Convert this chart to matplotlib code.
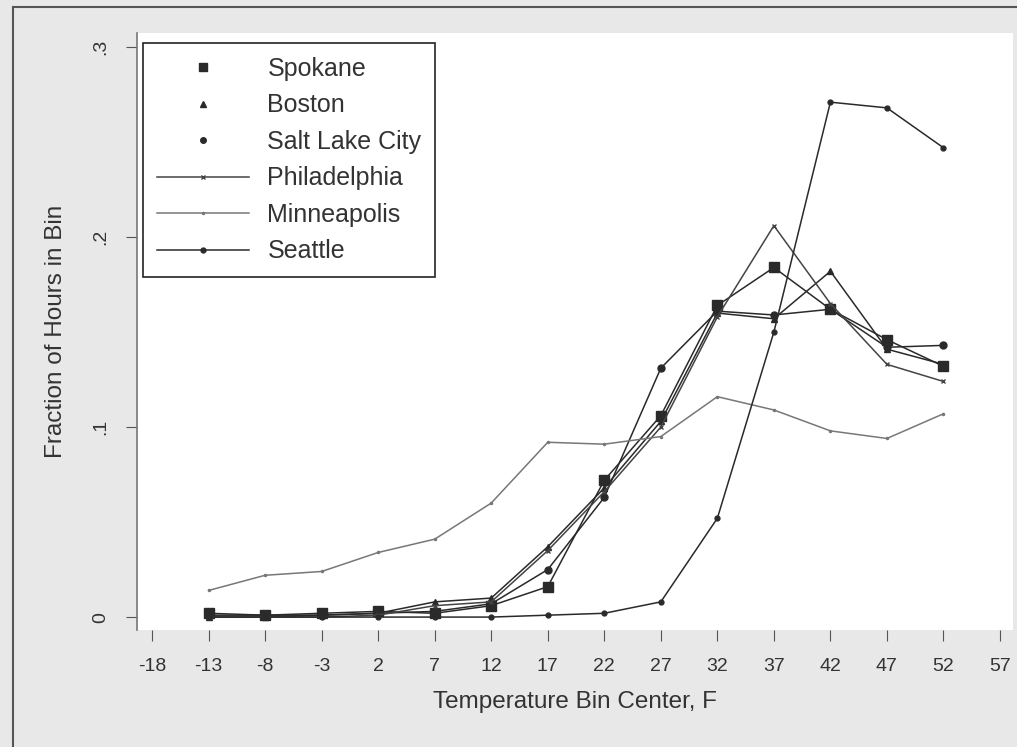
import matplotlib.pyplot as plt
from matplotlib.lines import Line2D
from matplotlib.patches import Rectangle

plt.rcParams['font.family'] = ['Liberation Sans', 'DejaVu Sans']
plt.rcParams['axes.unicode_minus'] = False

# bin centers (F)
temps = [-13, -8, -3, 2, 7, 12, 17, 22, 27, 32, 37, 42, 47, 52]

spokane = [0.002, 0.001, 0.002, 0.003, 0.002, 0.006, 0.016, 0.072, 0.106, 0.164, 0.184, 0.162, 0.146, 0.132]
boston = [0.000, 0.000, 0.001, 0.002, 0.008, 0.010, 0.037, 0.068, 0.103, 0.160, 0.157, 0.182, 0.141, 0.133]
salt_lake = [0.001, 0.001, 0.001, 0.002, 0.003, 0.007, 0.025, 0.063, 0.131, 0.161, 0.159, 0.162, 0.142, 0.143]
philadelphia = [0.000, 0.000, 0.000, 0.001, 0.006, 0.008, 0.035, 0.066, 0.100, 0.158, 0.206, 0.165, 0.133, 0.124]
minneapolis = [0.014, 0.022, 0.024, 0.034, 0.041, 0.060, 0.092, 0.091, 0.095, 0.116, 0.109, 0.098, 0.094, 0.107]
seattle = [0.000, 0.000, 0.000, 0.000, 0.000, 0.000, 0.001, 0.002, 0.008, 0.052, 0.150, 0.271, 0.268, 0.247]

xticks = list(range(-18, 58, 5))
yticks = [0, 0.1, 0.2, 0.3]
ytick_labels = ['0', '.1', '.2', '.3']

fig = plt.figure(figsize=(10.17, 7.47), dpi=100)
fig.patch.set_facecolor('#e8e8e8')
# outer frame (only left/top edges visible)
fig.patches.append(Rectangle((13 / 1017, -0.1), 1.2, 1 - 7 / 747 + 0.1,
                             transform=fig.transFigure, fill=False,
                             edgecolor='#555555', linewidth=1.5))

ax = fig.add_axes([137 / 1017, 1 - 630 / 747, 876 / 1017, 597 / 747])
ax.set_facecolor('white')

dark = '#2a2a2a'
ax.plot(temps, spokane, color=dark, lw=1.1, marker='s', ms=7)
ax.plot(temps, boston, color=dark, lw=1.1, marker='^', ms=5)
ax.plot(temps, salt_lake, color=dark, lw=1.1, marker='o', ms=5)
ax.plot(temps, philadelphia, color='#444444', lw=1.1, marker='x', ms=3)
ax.plot(temps, minneapolis, color='#777777', lw=1.1, marker='.', ms=3)
ax.plot(temps, seattle, color=dark, lw=1.1, marker='o', ms=3.5)

ax.set_xlim(-19.33, 58.15)
ax.set_ylim(-0.0068, 0.3074)
ax.set_xticks(xticks)
ax.set_yticks(yticks)
ax.set_yticklabels(ytick_labels, rotation=90, va='center')

for s in ['top', 'right', 'bottom']:
    ax.spines[s].set_visible(False)
ax.spines['left'].set_color('#777777')
ax.spines['left'].set_linewidth(1.2)

ax.tick_params(axis='x', direction='out', length=8, pad=12, colors='#555555',
               labelcolor='#333333', labelsize=14)
ax.tick_params(axis='y', direction='out', length=8, pad=12, colors='#555555',
               labelcolor='#333333', labelsize=14)

ax.set_xlabel('Temperature Bin Center, F', fontsize=17.5, color='#333333', labelpad=12)
ax.set_ylabel('Fraction of Hours in Bin', fontsize=17.5, color='#333333', labelpad=18)

handles = [
    Line2D([], [], color=dark, lw=0, marker='s', ms=6),
    Line2D([], [], color=dark, lw=0, marker='^', ms=5),
    Line2D([], [], color=dark, lw=0, marker='o', ms=4),
    Line2D([], [], color='#444444', lw=1.1, marker='x', ms=3),
    Line2D([], [], color='#777777', lw=1.1, marker='.', ms=3),
    Line2D([], [], color=dark, lw=1.1, marker='o', ms=3.5),
]
labels = ['Spokane', 'Boston', 'Salt Lake City', 'Philadelphia', 'Minneapolis', 'Seattle']
leg = ax.legend(handles, labels, loc='upper left', bbox_to_anchor=(0.007, 0.983),
                fontsize=18, handlelength=3.7, handletextpad=0.72, labelspacing=0.5,
                borderpad=0.55, borderaxespad=0, fancybox=False, framealpha=1)
leg.get_frame().set_edgecolor('#222222')
leg.get_frame().set_linewidth(1.2)
for t in leg.get_texts():
    t.set_color('#333333')

fig.savefig('out.png', dpi=100, facecolor=fig.get_facecolor())
